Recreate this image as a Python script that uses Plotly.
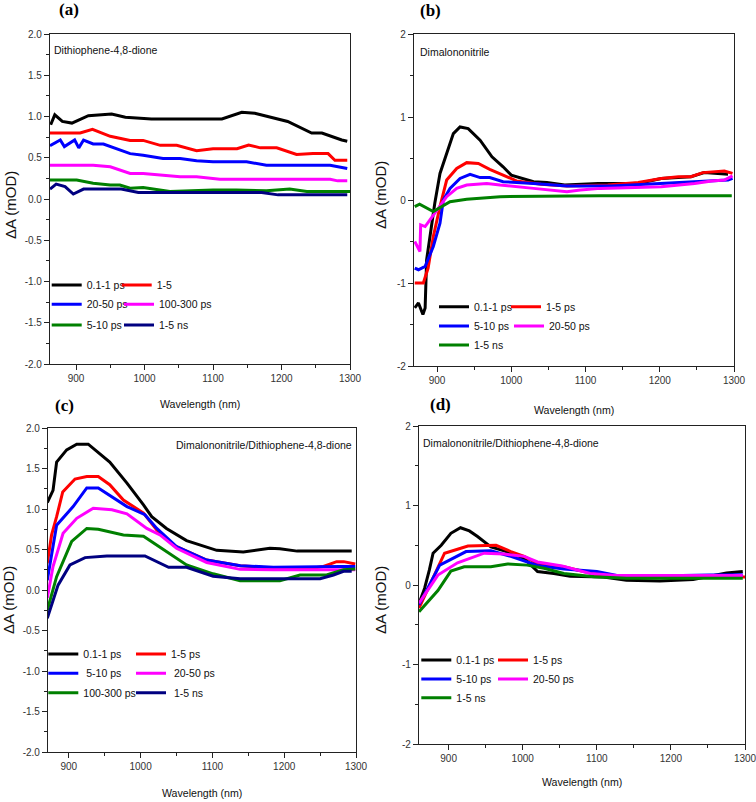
import plotly.graph_objects as go

W, H = 756, 802
OFF = 0
SANS = "Liberation Sans, Arial, sans-serif"
SERIF = "Liberation Serif, Times New Roman, serif"

COLORS = ["#000000", "#ff0000", "#0000ff", "#ff00ff", "#008000", "#000080"]

# ---------------- Panel (a): Dithiophene-4,8-dione ----------------
A_LABELS = ["0.1-1 ps", "1-5", "20-50 ps", "100-300 ps", "5-10 ps", "1-5 ns"]
A_BLACK_WL = [863, 869, 880, 894, 918, 935, 952, 972, 1010, 1113, 1142, 1161, 1190, 1209, 1244, 1259, 1288, 1296]
A_BLACK = [0.90, 1.02, 0.94, 0.92, 1.01, 1.02, 1.03, 0.99, 0.97, 0.97, 1.05, 1.04, 0.98, 0.94, 0.80, 0.80, 0.715, 0.70]
A_RED_WL = [862, 906, 924, 950, 979, 998, 1023, 1047, 1076, 1100, 1135, 1152, 1169, 1193, 1222, 1246, 1268, 1278, 1296]
A_RED = [0.80, 0.80, 0.845, 0.76, 0.71, 0.71, 0.65, 0.65, 0.585, 0.61, 0.61, 0.655, 0.62, 0.62, 0.54, 0.55, 0.55, 0.47, 0.47]
A_BLUE_WL = [862, 877, 883, 898, 904, 911, 925, 940, 979, 998, 1027, 1052, 1076, 1100, 1149, 1178, 1271, 1296]
A_BLUE = [0.645, 0.715, 0.635, 0.715, 0.62, 0.715, 0.667, 0.667, 0.55, 0.53, 0.49, 0.49, 0.465, 0.45, 0.45, 0.41, 0.41, 0.37]
A_MAG_WL = [862, 925, 950, 979, 998, 1052, 1076, 1110, 1271, 1282, 1296]
A_MAG = [0.41, 0.41, 0.39, 0.31, 0.31, 0.27, 0.27, 0.24, 0.24, 0.22, 0.22]
A_GREEN_WL = [862, 901, 925, 950, 964, 979, 998, 1018, 1037, 1100, 1134, 1178, 1212, 1237, 1300]
A_GREEN = [0.23, 0.23, 0.19, 0.17, 0.17, 0.13, 0.14, 0.11, 0.09, 0.11, 0.11, 0.10, 0.12, 0.09, 0.09]
A_NAVY_WL = [862, 871, 884, 896, 911, 966, 991, 1171, 1195, 1296]
A_NAVY = [0.12, 0.18, 0.15, 0.06, 0.12, 0.12, 0.08, 0.08, 0.05, 0.05]

# ---------------- Panel (b): Dimalononitrile ----------------
B_LABELS = ["0.1-1 ps", "1-5 ps", "5-10 ps", "20-50 ps", "1-5 ns"]
B_BLACK_WL = [870, 875, 881, 884, 886, 890.5, 897, 904, 915, 922, 931, 942, 958, 974, 989, 1000, 1030, 1048, 1072, 1117, 1171, 1202, 1242, 1260, 1292]
B_BLACK = [-1.30, -1.24, -1.38, -1.30, -0.72, -0.44, -0.04, 0.32, 0.60, 0.80, 0.88, 0.86, 0.72, 0.52, 0.40, 0.30, 0.22, 0.21, 0.18, 0.20, 0.20, 0.26, 0.28, 0.33, 0.31]
B_RED_WL = [870, 881.6, 888, 895, 904, 913, 926.5, 940, 955.6, 971, 989, 1007, 1040, 1075, 1130, 1171, 1202, 1225, 1242, 1258, 1287, 1298]
B_RED = [-1.0, -1.0, -0.82, -0.44, -0.08, 0.24, 0.38, 0.45, 0.44, 0.37, 0.30, 0.23, 0.19, 0.17, 0.18, 0.21, 0.26, 0.28, 0.28, 0.33, 0.35, 0.32]
B_BLUE_WL = [870, 875, 884, 895, 904, 908.5, 917.5, 931, 944.5, 958, 971, 989, 1030, 1075, 1135, 1202, 1247, 1292, 1298]
B_BLUE = [-0.82, -0.84, -0.80, -0.56, -0.28, 0.0, 0.14, 0.26, 0.31, 0.27, 0.27, 0.22, 0.20, 0.17, 0.17, 0.20, 0.22, 0.24, 0.26]
B_MAG_WL = [870, 875, 877, 878, 884, 890.5, 904, 913, 926.5, 940, 967, 985, 1030, 1075, 1093, 1120, 1202, 1247, 1270, 1287, 1298]
B_MAG = [-0.50, -0.60, -0.62, -0.30, -0.32, -0.24, -0.08, 0.04, 0.14, 0.18, 0.20, 0.18, 0.14, 0.10, 0.12, 0.14, 0.16, 0.20, 0.23, 0.24, 0.29]
B_GREEN_WL = [870, 876.5, 895, 917.5, 940, 985, 1120, 1297]
B_GREEN = [-0.08, -0.05, -0.14, -0.02, 0.01, 0.04, 0.05, 0.05]

# ---------------- Panel (c): Dimalononitrile/Dithiophene-4,8-dione ----------------
C_LABELS = ["0.1-1 ps", "1-5 ps", "\u00a05-10 ps", "\u00a020-50 ps", "100-300 ps", "\u00a01-5 ns"]
C_BLACK_WL = [870, 878, 883, 897, 911, 927, 957, 981, 1004, 1015.5, 1036, 1064, 1106, 1143, 1180, 1194, 1218, 1294]
C_BLACK = [1.08, 1.23, 1.58, 1.73, 1.80, 1.80, 1.58, 1.32, 1.05, 0.905, 0.76, 0.61, 0.49, 0.47, 0.515, 0.51, 0.48, 0.48]
C_RED_WL = [870, 876, 883, 891.5, 908.6, 925, 941, 957, 976, 1004, 1022.5, 1045.6, 1092, 1138.6, 1185, 1231.5, 1254.7, 1273, 1283, 1299]
C_RED = [0.33, 0.68, 0.905, 1.21, 1.37, 1.40, 1.40, 1.30, 1.11, 0.95, 0.74, 0.555, 0.37, 0.30, 0.27, 0.26, 0.29, 0.35, 0.35, 0.32]
C_BLUE_WL = [870, 883, 906, 925, 941, 957, 981, 1006, 1022.5, 1050, 1092, 1139, 1185, 1278, 1299]
C_BLUE = [0.12, 0.80, 1.03, 1.26, 1.26, 1.17, 1.03, 0.93, 0.76, 0.535, 0.37, 0.30, 0.28, 0.29, 0.29]
C_MAG_WL = [870, 878, 892, 911, 934, 960, 981, 1008.6, 1027, 1050, 1092, 1138.6, 1185, 1278, 1299]
C_MAG = [-0.10, 0.29, 0.70, 0.885, 1.01, 0.99, 0.94, 0.76, 0.68, 0.515, 0.34, 0.255, 0.25, 0.255, 0.25]
C_GREEN_WL = [870, 883, 904, 925, 941, 976, 1004, 1036, 1064, 1101, 1138.6, 1194, 1222, 1259, 1282.6, 1299]
C_GREEN = [-0.25, 0.165, 0.60, 0.76, 0.75, 0.68, 0.665, 0.47, 0.31, 0.20, 0.115, 0.115, 0.185, 0.185, 0.25, 0.26]
C_NAVY_WL = [870, 885, 901.6, 922.6, 953, 1006, 1039, 1064, 1101, 1138.6, 1250, 1268.6, 1282.6, 1294]
C_NAVY = [-0.35, 0.06, 0.31, 0.40, 0.42, 0.42, 0.28, 0.28, 0.17, 0.14, 0.14, 0.185, 0.23, 0.23]

# ---------------- Panel (d): Dimalononitrile/Dithiophene-4,8-dione ----------------
D_LABELS = ["0.1-1 ps", "1-5 ps", "5-10 ps", "20-50 ps", "1-5 ns"]
D_BLACK_WL = [861, 867.6, 874, 879, 890, 903, 916, 928, 939, 957, 975, 1002, 1020, 1042, 1064, 1109, 1140, 1185, 1230, 1275, 1297]
D_BLACK = [-0.21, -0.04, 0.19, 0.40, 0.50, 0.65, 0.72, 0.68, 0.61, 0.48, 0.43, 0.335, 0.17, 0.145, 0.11, 0.10, 0.06, 0.05, 0.07, 0.15, 0.17]
D_RED_WL = [860, 877, 894.5, 912, 926, 964, 984, 1002, 1020, 1055.6, 1082, 1109, 1140, 1300]
D_RED = [-0.29, 0.04, 0.40, 0.45, 0.49, 0.50, 0.42, 0.36, 0.27, 0.23, 0.17, 0.12, 0.11, 0.10]
D_BLUE_WL = [860, 888, 923.5, 957, 984, 1020, 1055.6, 1100, 1127, 1160, 1252, 1297]
D_BLUE = [-0.25, 0.25, 0.42, 0.43, 0.36, 0.245, 0.20, 0.17, 0.12, 0.11, 0.125, 0.13]
D_MAG_WL = [860, 885.5, 912, 948, 975, 1002, 1020, 1053, 1091, 1127, 1297]
D_MAG = [-0.23, 0.125, 0.28, 0.40, 0.39, 0.36, 0.29, 0.24, 0.145, 0.12, 0.12]
D_GREEN_WL = [860, 885.5, 903, 921, 957, 979.5, 1006, 1028.7, 1055.6, 1096, 1140, 1297]
D_GREEN = [-0.335, -0.07, 0.175, 0.23, 0.23, 0.265, 0.25, 0.21, 0.145, 0.105, 0.085, 0.085]

# axis ticks
X_TICKS = [900, 1000, 1100, 1200, 1300]
X_TICKTEXT = ["900", "1000", "1100", "1200", "1300"]
Y_TICKS_HALF = [-2.0, -1.5, -1.0, -0.5, 0.0, 0.5, 1.0, 1.5, 2.0]
Y_TICKTEXT_HALF = ["-2.0", "-1.5", "-1.0", "-0.5", "0.0", "0.5", "1.0", "1.5", "2.0"]
Y_TICKS_ONE = [-2, -1, 0, 1, 2]
Y_TICKTEXT_ONE = ["-2", "-1", "0", "1", "2"]


def px(x):
    return (x - OFF) / W


def py(y):
    return 1 - (y - OFF) / H


# layout geometry (window pixels) -----------------------------------
panels = {
    "a": dict(box=(50, 350, 34, 364), xr=[862, 1300], ydt="half",
              series=[(A_BLACK_WL, A_BLACK), (A_RED_WL, A_RED), (A_BLUE_WL, A_BLUE),
                      (A_MAG_WL, A_MAG), (A_GREEN_WL, A_GREEN), (A_NAVY_WL, A_NAVY)],
              labels=A_LABELS, colors=COLORS,
              leg=[(51.7, 285), (121.7, 285), (51.7, 304.3), (124, 304.3), (51.7, 325), (124, 325)]),
    "b": dict(box=(414, 734, 34, 366), xr=[869, 1300], ydt="one",
              series=[(B_BLACK_WL, B_BLACK), (B_RED_WL, B_RED), (B_BLUE_WL, B_BLUE),
                      (B_MAG_WL, B_MAG), (B_GREEN_WL, B_GREEN)],
              labels=B_LABELS, colors=COLORS[:5],
              leg=[(439, 306.7), (511, 306.7), (439, 326), (514, 326), (439, 345)]),
    "c": dict(box=(48, 356, 428, 752), xr=[871, 1300], ydt="half",
              series=[(C_BLACK_WL, C_BLACK), (C_RED_WL, C_RED), (C_BLUE_WL, C_BLUE),
                      (C_MAG_WL, C_MAG), (C_GREEN_WL, C_GREEN), (C_NAVY_WL, C_NAVY)],
              labels=C_LABELS, colors=COLORS,
              leg=[(48.3, 654), (136, 654), (48.3, 673.3), (136, 673.3), (48.3, 692.7), (136, 692.7)]),
    "d": dict(box=(419, 745, 426, 744), xr=[860, 1300], ydt="one",
              series=[(D_BLACK_WL, D_BLACK), (D_RED_WL, D_RED), (D_BLUE_WL, D_BLUE),
                      (D_MAG_WL, D_MAG), (D_GREEN_WL, D_GREEN)],
              labels=D_LABELS, colors=COLORS[:5],
              leg=[(421.3, 660), (498, 660), (421.3, 679), (498, 679), (421.3, 697.7)]),
}

fig = go.Figure()
layout = dict(width=W, height=H, margin=dict(l=0, r=0, t=0, b=0, autoexpand=False),
              paper_bgcolor="white", plot_bgcolor="white", showlegend=True,
              font=dict(family=SANS, size=10, color="#222"))

axis_common = dict(showline=True, linecolor="#222", linewidth=1.2, mirror=True,
                   ticks="outside", ticklen=5, tickwidth=1, tickcolor="#222",
                   showgrid=False, zeroline=False, ticklabeloverflow="allow",
                   tickfont=dict(family=SANS, size=10, color="#333"))

leg_idx = 0
for i, (key, p) in enumerate(panels.items()):
    n = i + 1
    xa = "x" if n == 1 else f"x{n}"
    ya = "y" if n == 1 else f"y{n}"
    x0, x1, y0, y1 = p["box"]
    xaxis = dict(axis_common, domain=[px(x0), px(x1)], range=p["xr"], anchor=ya,
                 tickvals=X_TICKS, ticktext=X_TICKTEXT,
                 minor=dict(dtick=50, tick0=850, ticklen=3, ticks="outside", tickcolor="#222"))
    if p["ydt"] == "half":
        yt, ytt, mdt = Y_TICKS_HALF, Y_TICKTEXT_HALF, 0.25
    else:
        yt, ytt, mdt = Y_TICKS_ONE, Y_TICKTEXT_ONE, 0.5
    yaxis = dict(axis_common, domain=[py(y1), py(y0)], range=[-2, 2], anchor=xa,
                 tickvals=yt, ticktext=ytt,
                 minor=dict(dtick=mdt, tick0=0, ticklen=3, ticks="outside", tickcolor="#222"))
    layout["xaxis" if n == 1 else f"xaxis{n}"] = xaxis
    layout["yaxis" if n == 1 else f"yaxis{n}"] = yaxis

    for (wl, vals), lab, col, (lx, ly) in zip(p["series"], p["labels"], p["colors"], p["leg"]):
        leg_idx += 1
        lname = "legend" if leg_idx == 1 else f"legend{leg_idx}"
        fig.add_trace(go.Scatter(x=wl, y=vals, mode="lines", name=lab,
                                 line=dict(color=col, width=3),
                                 xaxis=xa, yaxis=ya, legend=lname))
        layout[lname] = dict(x=px(lx - 5), y=py(ly), xanchor="left", yanchor="middle",
                             bgcolor="rgba(0,0,0,0)", borderwidth=0,
                             font=dict(family=SANS, size=10.5, color="#111"),
                             itemclick=False, itemdoubleclick=False)

annotations = []
# panel letters
for lab, (x, y) in {"(a)": (69, 9), "(b)": (430, 10), "(c)": (64, 405), "(d)": (440, 404)}.items():
    annotations.append(dict(text=f"<b>{lab}</b>", x=px(x), y=py(y), xref="paper", yref="paper",
                            showarrow=False, xanchor="center", yanchor="middle",
                            font=dict(family=SERIF, size=17, color="#000")))
# sample names
annotations += [
    dict(text="Dithiophene-4,8-dione", x=px(52), y=py(50), xanchor="left"),
    dict(text="Dimalononitrile", x=px(418), y=py(52), xanchor="left"),
    dict(text="Dimalononitrile/Dithiophene-4,8-dione", x=px(354), y=py(445), xanchor="right"),
    dict(text="Dimalononitrile/Dithiophene-4,8-dione", x=px(421), y=py(443), xanchor="left"),
]
for a in annotations[4:]:
    a.update(xref="paper", yref="paper", showarrow=False, yanchor="middle",
             font=dict(family=SANS, size=10.5, color="#111"))
# axis titles
for (x, y) in [(200, 404), (574, 410), (202, 793), (582, 782)]:
    annotations.append(dict(text="Wavelength (nm)", x=px(x), y=py(y), xref="paper", yref="paper",
                            showarrow=False, xanchor="center", yanchor="middle",
                            font=dict(family=SANS, size=10.6, color="#111")))
for (x, y) in [(10, 205), (380, 195), (8, 600), (380, 600)]:
    annotations.append(dict(text="\u0394A (mOD)", x=px(x), y=py(y), xref="paper", yref="paper",
                            showarrow=False, xanchor="center", yanchor="middle", textangle=-90,
                            font=dict(family=SANS, size=15, color="#111")))

layout["annotations"] = annotations
fig.update_layout(**layout)
# remove the default page margin so the figure fills the window exactly
fig.write_html("out.html", config={"displayModeBar": False},
               post_script="document.body.style.margin='0';")
